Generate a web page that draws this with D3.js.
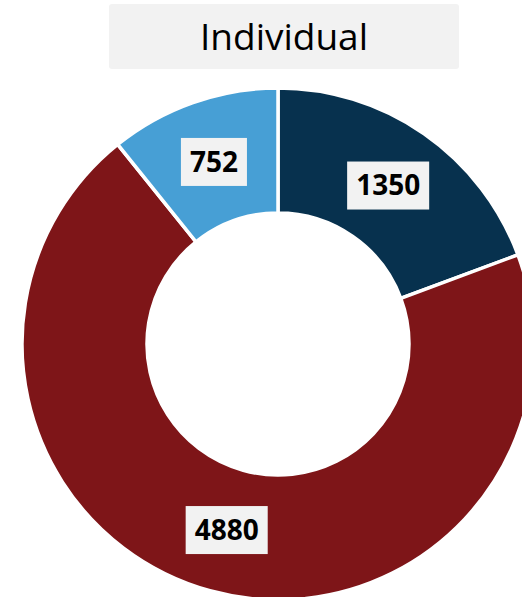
<!DOCTYPE html>
<html>
<head>
<meta charset="utf-8">
<script src="https://cdn.jsdelivr.net/npm/d3@7"></script>
<style>
  body { margin: 0; background: #fff; }
  svg { display: block; }
</style>
</head>
<body>
<div id="chart"></div>
<script>
// slice data, clockwise from 12 o'clock
var categories = ["A", "B", "C"];
var values = [1350, 4880, 752];
var colors = ["#07314e", "#7e1518", "#479fd5"];
var title = "Individual";

var width = 522, height = 597;
var cx = 278, cy = 344;
var outerR = 256, innerR = 131;

var svg = d3.select("#chart").append("svg")
    .attr("width", width).attr("height", height);

// title box
svg.append("rect")
    .attr("x", 109).attr("y", 4)
    .attr("width", 350).attr("height", 65)
    .attr("rx", 3)
    .attr("fill", "#f2f2f2");
svg.append("text")
    .attr("x", 284).attr("y", 37)
    .attr("dy", "0.35em")
    .attr("text-anchor", "middle")
    .style("font-family", "'Open Sans', sans-serif")
    .style("font-size", "37px")
    .attr("fill", "#000")
    .text(title);

var pie = d3.pie().sort(null).value(function(d, i){ return values[i]; });
var arcs = pie(categories);

var arc = d3.arc().innerRadius(innerR).outerRadius(outerR);
var labelArc = d3.arc().innerRadius(193).outerRadius(193);

var g = svg.append("g").attr("transform", "translate(" + cx + "," + cy + ")");

g.selectAll("path")
    .data(arcs).enter().append("path")
    .attr("d", arc)
    .attr("fill", function(d, i){ return colors[i]; })
    .attr("stroke", "#fff")
    .attr("stroke-width", 3.5)
    .attr("stroke-linejoin", "miter");

// labels in light boxes
var labels = g.selectAll("g.label")
    .data(arcs).enter().append("g")
    .attr("class", "label")
    .attr("transform", function(d){ return "translate(" + labelArc.centroid(d) + ")"; });

labels.append("text")
    .attr("text-anchor", "middle")
    .attr("dy", "0.35em")
    .style("font-family", "'Open Sans', sans-serif")
    .style("font-weight", "bold")
    .style("font-size", "28px")
    .attr("fill", "#000")
    .text(function(d, i){ return values[i]; })
    .each(function(){
        var bb = this.getBBox();
        d3.select(this.parentNode).insert("rect", "text")
            .attr("x", -bb.width / 2 - 9)
            .attr("y", -24)
            .attr("width", bb.width + 18)
            .attr("height", 48)
            .attr("fill", "#f2f2f2");
    });
</script>
</body>
</html>
